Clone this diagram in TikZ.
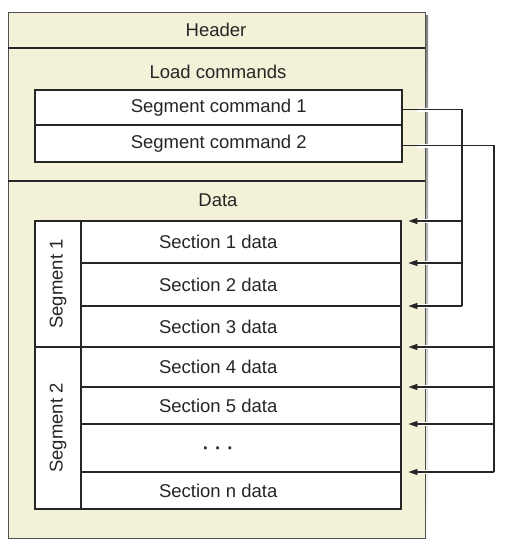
\documentclass[tikz,border=0pt]{standalone}
\usepackage{fontspec}
\setmainfont{Liberation Sans}
\usetikzlibrary{arrows.meta}
\definecolor{cream}{RGB}{243,241,216}
\definecolor{ink}{RGB}{38,38,38}
\definecolor{shade}{RGB}{70,70,70}
\tikzset{
  txt/.style={font=\fontsize{18.5}{22}\selectfont, text=ink, inner sep=0pt},
  row/.style={txt, minimum width=366pt, anchor=north west},
  boxline/.style={draw=ink, line width=2pt},
  rowline/.style={draw=ink, line width=1.5pt},
  link/.style={draw=ink, line width=1.3pt},
  halo/.style={draw=white, line width=4pt},
}
\begin{document}
\begin{tikzpicture}[x=1pt, y=-1pt, >={Triangle[length=9pt,width=6pt]}]
  \useasboundingbox (0,0) rectangle (519,558);
  \fill[shade] (11,15) rectangle (428,541);
  \draw[fill=cream, draw=ink!80, line width=1pt] (8,12) rectangle (425,538);
  \draw[rowline] (8,48) -- (425,48);
  \draw[rowline] (8,181) -- (425,181);
  \node[txt] (header) at (216,30) {Header};
  \node[txt] (load) at (218,72) {Load commands};
  \node[txt] (data) at (218,200) {Data};

  \draw[boxline, fill=white] (35,90) rectangle (402,162);
  \draw[rowline] (35,125) -- (402,125);
  \node[txt, minimum width=367pt, minimum height=35pt, anchor=north west] (cmd1) at (35,90) {Segment command 1};
  \node[txt, minimum width=367pt, minimum height=37pt, anchor=north west] (cmd2) at (35,125) {Segment command 2};

  \draw[boxline, fill=white] (35,221) rectangle (401,509);
  \draw[rowline] (81,221) -- (81,509);
  \draw[rowline] (35,347) -- (401,347);
  \foreach \y in {263,306,387,424,472}
    \draw[rowline] (81,\y) -- (401,\y);
  \node[row, minimum height=42pt] (sec1) at (35,221) {Section 1 data};
  \node[row, minimum height=43pt] (sec2) at (35,263) {Section 2 data};
  \node[row, minimum height=41pt] (sec3) at (35,306) {Section 3 data};
  \node[row, minimum height=40pt] (sec4) at (35,347) {Section 4 data};
  \node[row, minimum height=37pt] (sec5) at (35,387) {Section 5 data};
  \node[row, minimum height=48pt] (secdots) at (35,424) {\raisebox{-6pt}[0pt][0pt]{\bfseries ·\kern6pt·\kern6pt·}};
  \node[row, minimum height=37pt] (secn) at (35,472) {Section n data};
  \node[txt, rotate=90] (seg1) at (58,284) {Segment 1};
  \node[txt, rotate=90] (seg2) at (58,428) {Segment 2};

  \coordinate (bus1) at (462,0);
  \coordinate (bus2) at (494,0);
  \foreach \s in {cmd1,cmd2}
    \draw[halo] ([xshift=15pt,yshift=-2pt]\s.east) -- ++(12,0);
  \foreach \s in {sec1,sec2,sec3,sec4,sec5,secdots,secn}
    \draw[halo] ([xshift=18pt]\s.north east) -- ++(12,0);
  \draw[link] ([yshift=-2pt]cmd1.east) -| (bus1 |- sec3.north);
  \draw[link] ([yshift=-2pt]cmd2.east) -| (bus2 |- secn.north);
  \foreach \s in {sec1,sec2,sec3}
    \draw[link, ->, shorten >=7pt] (bus1 |- \s.north east) -- (\s.north east);
  \foreach \s in {sec4,sec5,secdots,secn}
    \draw[link, ->, shorten >=7pt] (bus2 |- \s.north east) -- (\s.north east);
\end{tikzpicture}
\end{document}
